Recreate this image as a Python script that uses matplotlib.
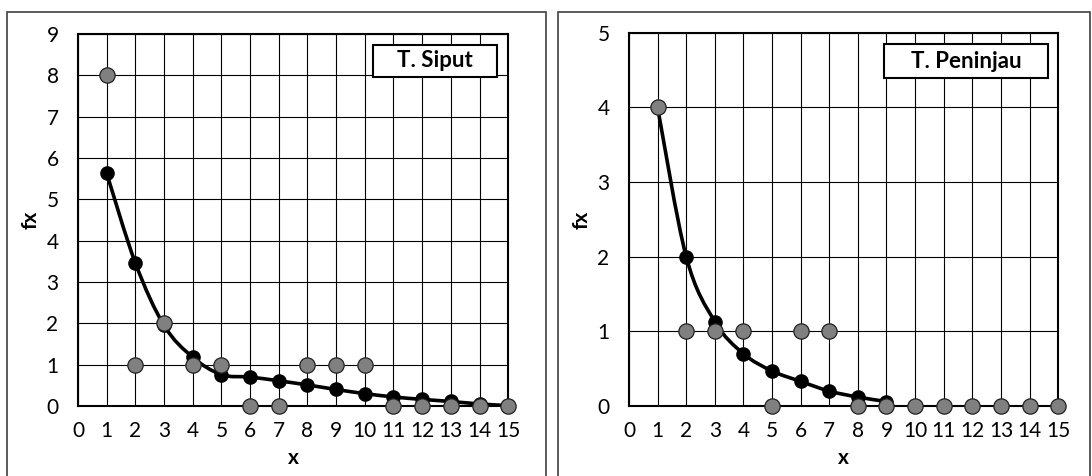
import numpy as np
import matplotlib
matplotlib.use("Agg")
import matplotlib.pyplot as plt
from matplotlib.path import Path
from matplotlib.patches import PathPatch, Rectangle

plt.rcParams['font.family'] = ['Lato', 'DejaVu Sans']

x = list(range(1, 16))

# T. Siput
siput_obs = [8, 1, 2, 1, 1, 0, 0, 1, 1, 1, 0, 0, 0, 0, 0]
siput_fit = [5.63, 3.46, 1.95, 1.18, 0.76, 0.70, 0.61, 0.51, 0.40, 0.30, 0.22, 0.16, 0.11, 0.05, 0.01]

# T. Peninjau
peninjau_obs = [4, 1, 1, 1, 0, 1, 1, 0, 0, 0, 0, 0, 0, 0, 0]
peninjau_x_fit = [1, 2, 3, 4, 5, 6, 7, 8, 9]
peninjau_fit = [4.0, 2.0, 1.13, 0.70, 0.47, 0.33, 0.20, 0.12, 0.06]


def smooth_path(xs, ys, t=1 / 6):
    # Excel-like smoothed line: cubic bezier segments (Catmull-Rom control points)
    xs = np.asarray(xs, float)
    ys = np.asarray(ys, float)
    n = len(xs)
    verts = [(xs[0], ys[0])]
    codes = [Path.MOVETO]
    for i in range(n - 1):
        p0 = (xs[max(i - 1, 0)], ys[max(i - 1, 0)])
        p1 = (xs[i], ys[i])
        p2 = (xs[i + 1], ys[i + 1])
        p3 = (xs[min(i + 2, n - 1)], ys[min(i + 2, n - 1)])
        c1 = (p1[0] + (p2[0] - p0[0]) * t, p1[1] + (p2[1] - p0[1]) * t)
        c2 = (p2[0] - (p3[0] - p1[0]) * t, p2[1] - (p3[1] - p1[1]) * t)
        verts += [c1, c2, p2]
        codes += [Path.CURVE4] * 3
    return Path(verts, codes)


def panel(ax, obs, fx, fy, ymax, title, box):
    ax.set_xlim(0, 15)
    ax.set_ylim(0, ymax)
    ax.set_xticks(range(0, 16))
    ax.set_yticks(range(0, ymax + 1))
    ax.grid(True, color='black', linewidth=0.8)
    ax.set_axisbelow(True)
    for s in ax.spines.values():
        s.set_linewidth(1.5)
    ax.tick_params(axis='x', length=0, labelsize=15, pad=11)
    ax.tick_params(axis='y', length=0, labelsize=15, pad=14)
    ax.add_patch(PathPatch(smooth_path(fx, fy), facecolor='none', edgecolor='black',
                           linewidth=2.6, zorder=3, clip_on=False))
    ax.plot(fx, fy, 'o', color='black', markersize=9.5, zorder=4, clip_on=False)
    ax.plot(x, obs, 'o', markerfacecolor='#808080', markeredgecolor='#202020',
            markeredgewidth=0.9, markersize=11, zorder=5, clip_on=False)
    ax.set_xlabel('x', fontsize=15, fontweight='bold', labelpad=5)
    ax.set_ylabel('fx', fontsize=15, fontweight='bold', labelpad=4)
    x0, y0, x1, y1 = box
    ax.add_patch(Rectangle((x0, y0), x1 - x0, y1 - y0, transform=ax.transAxes,
                           facecolor='white', edgecolor='black', linewidth=1.5, zorder=6))
    ax.text((x0 + x1) / 2, (y0 + y1) / 2, title, transform=ax.transAxes, ha='center',
            va='center', fontsize=16, fontweight='bold', zorder=7)


fig = plt.figure(figsize=(10.92, 4.76), dpi=100)
ax1 = fig.add_axes([0.0714, 0.147, 0.394, 0.782])
ax2 = fig.add_axes([0.576, 0.147, 0.393, 0.784])

panel(ax1, siput_obs, x, siput_fit, 9, 'T. Siput', (0.686, 0.884, 0.974, 0.970))
panel(ax2, peninjau_obs, peninjau_x_fit, peninjau_fit, 5, 'T. Peninjau', (0.594, 0.879, 0.977, 0.970))

# panel borders
fig.patches.append(Rectangle((7 / 1092, -0.01), 539 / 1092, 1 - 12 / 476 + 0.01,
                             transform=fig.transFigure, fill=False, edgecolor='#404040', linewidth=1.2))
fig.patches.append(Rectangle((558 / 1092, -0.01), 532 / 1092, 1 - 12 / 476 + 0.01,
                             transform=fig.transFigure, fill=False, edgecolor='#404040', linewidth=1.2))

fig.savefig('out.png', dpi=100)
